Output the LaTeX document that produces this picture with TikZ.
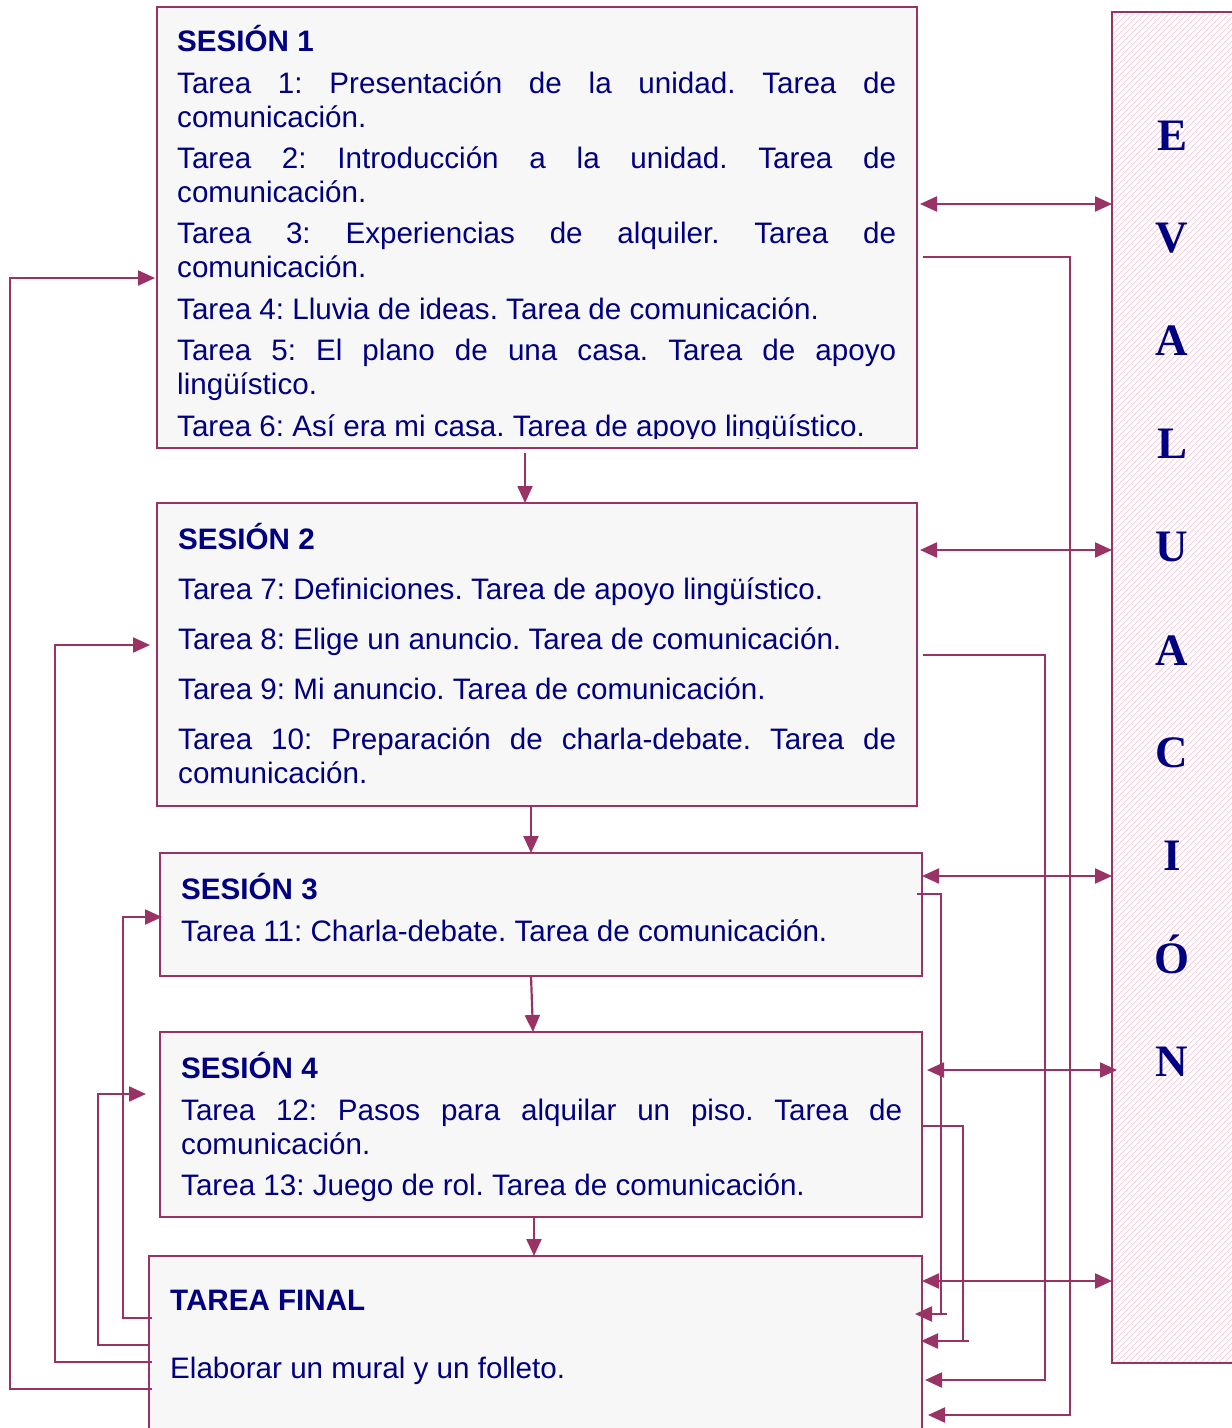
\documentclass[tikz,border=0pt]{standalone}
\usepackage{fontspec}
\setmainfont{Liberation Sans}
\newfontfamily\serifb{Liberation Serif}
\usetikzlibrary{arrows.meta}
\definecolor{bord}{HTML}{993366}
\definecolor{navy}{HTML}{000080}
\definecolor{boxfill}{HTML}{F7F7F7}
\definecolor{hatch}{HTML}{F4D0DE}
\begin{document}
\frenchspacing
\begin{tikzpicture}[x=1pt,y=-1pt,
  box/.style={draw=bord, line width=2pt, fill=boxfill, inner sep=0pt, outer sep=0pt, anchor=north west},
  conn/.style={draw=bord, line width=2.2pt},
  tip/.style={-{Triangle[length=17pt,width=15pt]}},
  both/.style={{Triangle[length=17pt,width=15pt]}-{Triangle[length=17pt,width=15pt]}},
  txt/.style={anchor=north west, inner sep=0pt, text width=#1, align=justify, text=navy, font=\fontsize{29.6}{34}\selectfont},
  lett/.style={anchor=base, text=navy, font=\serifb\bfseries\fontsize{45}{45}\selectfont, inner sep=0pt}]
\useasboundingbox (0,0) rectangle (1232,1428);
\fill[white] (0,0) rectangle (1232,1428);

% boxes
\node[box, minimum width=760pt, minimum height=441pt] (s1) at (157,7) {};
\node[box, minimum width=760pt, minimum height=303pt] (s2) at (157,503) {};
\node[box, minimum width=762pt, minimum height=123pt] (s3) at (160,853) {};
\node[box, minimum width=762pt, minimum height=185pt] (s4) at (160,1032) {};
\node[box, minimum width=773pt, minimum height=200pt] (tf) at (149,1256) {};

% evaluation box
\node[draw=bord, line width=2pt, fill=white, inner sep=0pt, outer sep=0pt, anchor=north west, minimum width=130pt, minimum height=1351pt] (ev) at (1112,12) {};
\begin{scope}
\clip (ev.south west) rectangle (ev.north east);
\foreach \i in {-1400,-1394,...,140}
  \draw[hatch, line width=1pt] (1112+\i,1363) -- ++(1351,-1351);
\end{scope}
\draw[bord, line width=2pt] (ev.south west) rectangle (ev.north east);

% texts
\begin{scope}
\clip (157,7) rectangle (917,438);
\node[txt=719pt] (t1) at (177,21.5) {\parindent=0pt \parskip=7.4pt \hyphenpenalty=10000 \tolerance=10000
\rule{0pt}{30pt}\textbf{SESIÓN 1}\par
Tarea 1: Presentación de la unidad. Tarea de\linebreak comunicación.\par
Tarea 2: Introducción a la unidad. Tarea de\linebreak comunicación.\par
Tarea 3: Experiencias de alquiler. Tarea de\linebreak comunicación.\par
Tarea 4: Lluvia de ideas. Tarea de comunicación.\par
Tarea 5: El plano de una casa. Tarea de apoyo\linebreak lingüístico.\par
Tarea 6: Así era mi casa. Tarea de apoyo lingüístico.};
\end{scope}

\node[txt=718pt] (t2) at (178,519.5) {\parindent=0pt \parskip=16pt \hyphenpenalty=10000 \tolerance=10000
\rule{0pt}{30pt}\textbf{SESIÓN 2}\par
Tarea 7: Definiciones. Tarea de apoyo lingüístico.\par
Tarea 8: Elige un anuncio. Tarea de comunicación.\par
Tarea 9: Mi anuncio. Tarea de comunicación.\par
Tarea 10: Preparación de charla-debate. Tarea de\linebreak comunicación.};

\node[txt=721pt] (t3) at (181,869.5) {\parindent=0pt \parskip=8pt \hyphenpenalty=10000 \tolerance=10000
\rule{0pt}{30pt}\textbf{SESIÓN 3}\par
Tarea 11: Charla-debate. Tarea de comunicación.};

\node[txt=721pt] (t4) at (181,1048.5) {\parindent=0pt \parskip=7.5pt \hyphenpenalty=10000 \tolerance=10000
\rule{0pt}{30pt}\textbf{SESIÓN 4}\par
Tarea 12: Pasos para alquilar un piso. Tarea de\linebreak comunicación.\par
Tarea 13: Juego de rol. Tarea de comunicación.};

\node[txt=730pt] (t5) at (170,1280.5) {\parindent=0pt \parskip=34pt \hyphenpenalty=10000 \tolerance=10000
\rule{0pt}{30pt}\textbf{TAREA FINAL}\par
Elaborar un mural y un folleto.};

% evaluation letters
\node[lett] (e1) at (1172,150) {E};
\node[lett] (e2) at (1172,252) {V};
\node[lett] (e3) at (1172,355) {A};
\node[lett] (e4) at (1172,458) {L};
\node[lett] (e5) at (1172,561) {U};
\node[lett] (e6) at (1172,665) {A};
\node[lett] (e7) at (1172,767) {C};
\node[lett] (e8) at (1172,870) {I};
\node[lett] (e9) at (1172,973) {Ó};
\node[lett] (e10) at (1172,1076) {N};

% downward arrows
\draw[conn,tip,shorten <=5pt] (s1.south -| 525,0) -- (s2.north -| 525,0);
\draw[conn,tip] (s2.south -| 531,0) -- (s3.north -| 531,0);
\draw[conn,tip] (s3.south -| 531,0) -- (s4.north -| 533,0);
\draw[conn,tip] (s4.south -| 534,0) -- (tf.north -| 534,0);

% two-way arrows to evaluation
\draw[conn,both,shorten <=3pt] (s1.east |- 0,204) -- (ev.west |- 0,204);
\draw[conn,both,shorten <=3pt] (s2.east |- 0,550) -- (ev.west |- 0,550);
\draw[conn,both] (s3.east |- 0,876) -- (ev.west |- 0,876);
\draw[conn,both,shorten <=5pt,shorten >=-5pt] (s4.east |- 0,1070) -- (ev.west |- 0,1070);
\draw[conn,both] (tf.east |- 0,1281) -- (ev.west |- 0,1281);

% right feedback lines
\coordinate (r1) at (1070,1415);
\coordinate (r2) at (1045,1380);
\coordinate (r3) at (941,1314);
\coordinate (r3s) at (947,1314);
\coordinate (r4) at (963,1341);
\coordinate (r4s) at (969,1341);
\draw[conn,tip,shorten <=6pt,shorten >=6pt] (s1.east |- 0,257) -| (r1) -- (tf.east |- r1);
\draw[conn,tip,shorten <=6pt,shorten >=3pt] (s2.east |- 0,655) -| (r2) -- (tf.east |- r2);
\draw[conn,shorten <=-5pt] (s3.east |- 0,894) -| (r3);
\draw[conn,tip,shorten >=-7pt] (r3s) -- (tf.east |- r3s);
\draw[conn] (s4.east |- 0,1126) -| (r4);
\draw[conn,tip,shorten >=-1pt] (r4s) -- (tf.east |- r4s);

% left feedback lines
\coordinate (l1) at (123,1318);
\coordinate (l2) at (98,1345);
\coordinate (l3) at (55,1362);
\coordinate (l4) at (10,1389);
\draw[conn,tip,shorten <=-3pt,shorten >=-2pt] (tf.west |- l1) -- (l1) |- (s3.west |- 0,917);
\draw[conn,tip,shorten >=14pt] (tf.west |- l2) -- (l2) |- (s4.west |- 0,1094);
\draw[conn,tip,shorten <=-3pt,shorten >=7pt] (tf.west |- l3) -- (l3) |- (s2.west |- 0,645);
\draw[conn,tip,shorten <=-3pt,shorten >=2pt] (tf.west |- l4) -- (l4) |- (s1.west |- 0,278);
\end{tikzpicture}
\end{document}
